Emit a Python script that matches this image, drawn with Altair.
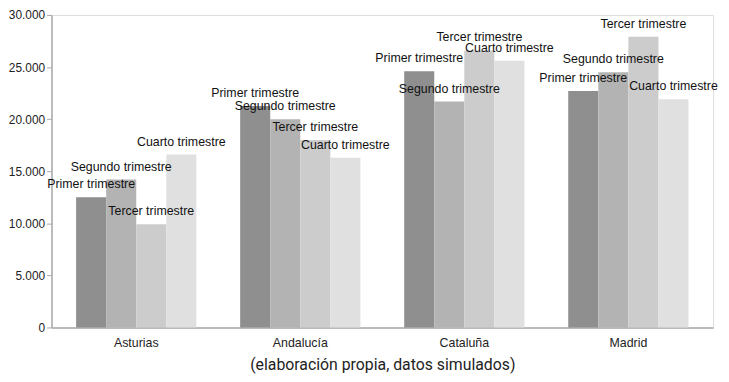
import altair as alt
import pandas as pd

regions = ["Asturias", "Andalucía", "Cataluña", "Madrid"]
quarters = ["Primer trimestre", "Segundo trimestre", "Tercer trimestre", "Cuarto trimestre"]
primer = [12500, 21250, 24600, 22700]
segundo = [14200, 20000, 21700, 24500]
tercer = [9900, 18000, 26600, 27900]
cuarto = [16600, 16300, 25600, 21900]
colors = ["#8f8f8f", "#b3b3b3", "#cccccc", "#e0e0e0"]

rows = []
for q, vals in zip(quarters, [primer, segundo, tercer, cuarto]):
    for r, v in zip(regions, vals):
        rows.append({"region": r, "trimestre": q, "valor": v})
df = pd.DataFrame(rows)

x = alt.X("region:N", sort=regions,
          scale=alt.Scale(paddingInner=0.267, paddingOuter=0.15),
          axis=alt.Axis(title="(elaboración propia, datos simulados)", labelAngle=0,
                        ticks=False, labelPadding=9, labelFontSize=12.5,
                        labelFont="Liberation Sans", labelColor="#222",
                        titleFont="Roboto", titleFontSize=16,
                        titleFontWeight="normal", titleColor="#222", titlePadding=8,
                        domainColor="#aaaaaa", domainWidth=1.5))
xo = alt.XOffset("trimestre:N", sort=quarters, scale=alt.Scale(paddingInner=0, paddingOuter=0))
y = alt.Y("valor:Q", scale=alt.Scale(domain=[0, 30000]),
          axis=alt.Axis(title=None, values=[0, 5000, 10000, 15000, 20000, 25000, 30000],
                        format=",.0f", grid=False, tickSize=5, tickColor="#aaaaaa",
                        domainColor="#aaaaaa", domainWidth=1.5, labelPadding=2,
                        labelFont="Liberation Sans", labelFontSize=12, labelColor="#222"))

base = alt.Chart(df)
bars = base.mark_bar().encode(
    x=x, xOffset=xo, y=y,
    color=alt.Color("trimestre:N", sort=quarters,
                    scale=alt.Scale(domain=quarters, range=colors), legend=None),
)
labels = base.mark_text(baseline="middle", align="center", dy=-13,
                        font="Liberation Sans", fontSize=12.5, color="#111").encode(
    x=x, xOffset=xo, y=y, text="trimestre:N")

chart = (bars + labels).properties(
    width=669, height=316,
    autosize="none",
    padding={"left": 44, "top": 5, "right": 8, "bottom": 45},
).configure_view(stroke=None).configure(
    locale={"number": {"decimal": ",", "thousands": ".", "grouping": [3], "currency": ["", "€"]}}
)

chart.save("out.html", embed_options={"renderer": "svg", "actions": False})
